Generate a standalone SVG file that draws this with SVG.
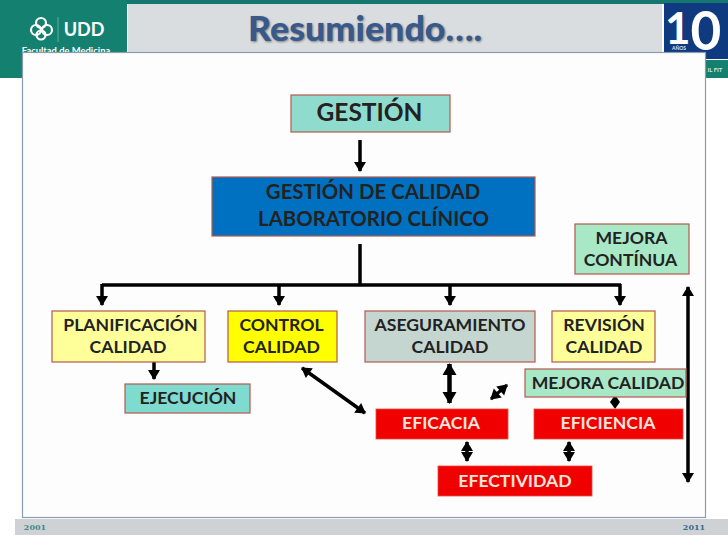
<svg xmlns="http://www.w3.org/2000/svg" width="728" height="546" viewBox="0 0 728 546">
<style>
.t{font-family:Lato,"Liberation Sans",sans-serif;font-weight:700;text-anchor:middle;fill:#222;font-size:17.6px}
.box{stroke:#b5594f;stroke-width:1.2}
.red{fill:#f00000;stroke:#e84a3a;stroke-width:.8}
.c{fill:none;stroke:#000;stroke-width:3.5}
.a{marker-end:url(#h)}
.d{marker-end:url(#h);marker-start:url(#hs)}
.b{marker-end:url(#hb);marker-start:url(#hbs);stroke-width:4.5}
.s{stroke-width:3}
</style>
<defs>
<marker id="h" markerUnits="userSpaceOnUse" markerWidth="14" markerHeight="14" refX="10" refY="7" orient="auto"><path d="M1 1L11 7L1 13Z" fill="#000"/></marker>
<marker id="hs" markerUnits="userSpaceOnUse" markerWidth="14" markerHeight="14" refX="4" refY="7" orient="auto"><path d="M13 1L3 7L13 13Z" fill="#000"/></marker>
<marker id="hb" markerUnits="userSpaceOnUse" markerWidth="18" markerHeight="18" refX="13" refY="9" orient="auto"><path d="M2 2L14 9L2 16Z" fill="#000"/></marker>
<marker id="hbs" markerUnits="userSpaceOnUse" markerWidth="18" markerHeight="18" refX="5" refY="9" orient="auto"><path d="M16 2L4 9L16 16Z" fill="#000"/></marker>
<filter id="sh" x="-5%" y="-20%" width="110%" height="140%"><feGaussianBlur stdDeviation=".8"/></filter>
</defs>
<rect width="728" height="546" fill="#fff"/>
<g id="header">
<rect x="0" y="0" width="728" height="4" fill="#14786e"/>
<rect x="0" y="0" width="127" height="78" fill="#14806f"/>
<rect x="128" y="4" width="534" height="49" fill="#dadde0"/>
<rect x="664" y="3" width="64" height="56" fill="#0f3a80"/>
<rect x="690" y="60" width="38" height="18" fill="#14806f"/>
<g fill="none" stroke="#fff" stroke-width="2.2"><circle cx="41" cy="23" r="5"/><circle cx="36" cy="30" r="5"/><circle cx="47" cy="30" r="5"/><circle cx="41" cy="35" r="4.500"/></g>
<path d="M58 17V42" stroke="#5fae9f" stroke-width="1"/>
<text x="84" y="36" font-family="Lato,'Liberation Sans',sans-serif" font-size="18" font-weight="700" fill="#fff" text-anchor="middle">UDD</text>
<text x="66" y="54" font-family="Lato,'Liberation Sans',sans-serif" font-size="9.400" font-weight="700" fill="#fff" text-anchor="middle">Facultad de Medicina</text>
<text x="665" y="44" font-family="Lato,'Liberation Sans',sans-serif" font-size="44" font-weight="700" fill="#fff">1<tspan font-size="53" dy="6">0</tspan></text>
<text x="679" y="50" font-family="Lato,'Liberation Sans',sans-serif" font-size="5" font-weight="700" fill="#d8e4f0" text-anchor="middle">AÑOS</text>
<text x="715" y="72" font-family="Lato,'Liberation Sans',sans-serif" font-size="6" font-weight="700" fill="#cfe6e0" text-anchor="middle">IL FIT</text>
<text x="365" y="41" font-family="Lato,'Liberation Sans',sans-serif" font-size="35" font-weight="900" fill="#000" opacity=".45" text-anchor="middle" textLength="234" lengthAdjust="spacingAndGlyphs" filter="url(#sh)" transform="translate(1 1)">Resumiendo….</text>
<text x="365" y="41" font-family="Lato,'Liberation Sans',sans-serif" font-size="35" font-weight="900" fill="#38598a" text-anchor="middle" textLength="234" lengthAdjust="spacingAndGlyphs">Resumiendo….</text>
</g>
<g id="panel">
<rect x="15" y="519" width="713" height="16" fill="#ced2d5"/>
<rect x="22.500" y="52.500" width="683" height="465" fill="#fdfdfd" stroke="#8b9bb0" stroke-width="1.200"/>
<text x="35" y="530" font-family="'DejaVu Serif','Liberation Serif',serif" font-size="8" font-weight="700" fill="#3f8a8f" text-anchor="middle">2001</text>
<text x="694" y="530" font-family="'DejaVu Serif','Liberation Serif',serif" font-size="8" font-weight="700" fill="#3a6a8f" text-anchor="middle">2011</text>
</g>
<g id="connectors">
<path class="c a" d="M360 140V171"/>
<path class="c" d="M360 244V285M102 285H621"/>
<path class="c a" d="M102 284V305"/>
<path class="c a" d="M279 284V305"/>
<path class="c a" d="M450 284V305"/>
<path class="c a" d="M620 284V305"/>
<path class="c a" d="M154 362V379"/>
<path class="c d" d="M688 287V482"/>
<path class="c d" d="M302 368L365 413"/>
<path class="c b" d="M449.500 364V403"/>
<path class="c d s" d="M491 399L507 385"/>
<path d="M615 395L620 402L615 409L610 402Z" fill="#000"/>
<path class="c d" d="M467 442V461"/>
<path class="c d" d="M569 442V461"/>
</g>
<g id="gestion"><rect class="box" x="291" y="95" width="159" height="37" fill="#8fdccf"/><text class="t" x="369.500" y="121" style="font-size:24.500px">GESTIÓN</text></g>
<g id="gestion-calidad"><rect class="box" x="212" y="177" width="323" height="59" fill="#0070c0"/><text class="t" x="373" y="199" style="font-size:20.400px">GESTIÓN DE CALIDAD</text><text class="t" x="373.500" y="226" style="font-size:20.400px">LABORATORIO CLÍNICO</text></g>
<g id="mejora-continua"><rect class="box" x="575" y="224" width="114" height="50" fill="#a8e8c6"/><text class="t" x="631.500" y="244">MEJORA</text><text class="t" x="630.500" y="266">CONTÍNUA</text></g>
<g id="planificacion"><rect class="box" x="52" y="311" width="153" height="51" fill="#ffff99"/><text class="t" x="130.500" y="331">PLANIFICACIÓN</text><text class="t" x="128" y="353">CALIDAD</text></g>
<g id="control"><rect class="box" x="228" y="311" width="109" height="51" fill="#ffff00"/><text class="t" x="281.500" y="331">CONTROL</text><text class="t" x="281.500" y="353">CALIDAD</text></g>
<g id="aseguramiento"><rect class="box" x="365" y="311" width="170" height="51" fill="#c4d6cf"/><text class="t" x="450" y="331">ASEGURAMIENTO</text><text class="t" x="450" y="353">CALIDAD</text></g>
<g id="revision"><rect class="box" x="552" y="311" width="103" height="51" fill="#ffff99"/><text class="t" x="604" y="331">REVISIÓN</text><text class="t" x="604" y="353">CALIDAD</text></g>
<g id="ejecucion"><rect class="box" x="125" y="384" width="125" height="29" fill="#7fdad0"/><text class="t" x="188" y="404">EJECUCIÓN</text></g>
<g id="mejora-calidad"><rect class="box" x="525" y="369" width="161" height="28" fill="#a8e8c6"/><text class="t" x="608" y="389">MEJORA CALIDAD</text></g>
<g id="eficacia"><rect class="red" x="376" y="409" width="132" height="30"/><text class="t" x="441" y="429" style="fill:#f6e6dc">EFICACIA</text></g>
<g id="eficiencia"><rect class="red" x="534" y="409" width="149" height="30"/><text class="t" x="608" y="429" style="fill:#f6e6dc">EFICIENCIA</text></g>
<g id="efectividad"><rect class="red" x="438" y="466" width="154" height="30"/><text class="t" x="515" y="487" style="fill:#f6e6dc">EFECTIVIDAD</text></g>
</svg>
